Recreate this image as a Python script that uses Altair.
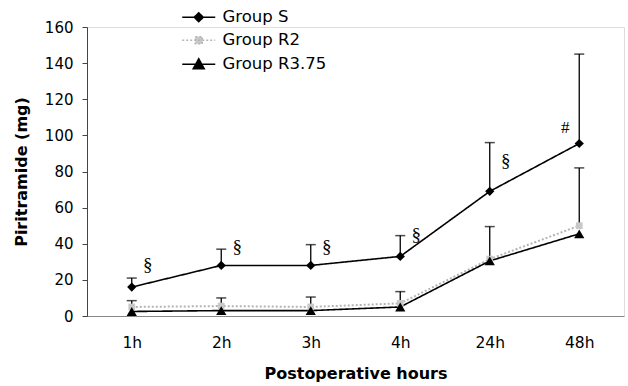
import altair as alt
import pandas as pd

# ---------------- data ----------------
hours = ["1h", "2h", "3h", "4h", "24h", "48h"]
groups = ["Group S", "Group R2", "Group R3.75"]

group_s = [16, 28, 28, 33, 69, 95.5]
group_r2 = [5, 5.5, 5, 7, 31.5, 50]
group_r375 = [2.5, 3, 3, 5, 30.5, 45.5]

# upper ends of the error bars (mean + SD); None = no bar drawn
err_s_hi = [21, 37, 39.5, 44.5, 96, 145]
err_r2_hi = [8.5, 10, 10.5, 13.5, None, 82]
err_r375_hi = [None, None, None, None, 49.5, None]

# significance marks
sect_hours = ["1h", "2h", "3h", "4h", "24h"]
sect_y = [28, 38, 38, 45, 86]
hash_hours = ["48h"]
hash_y = [104]

# ---------------- tables ----------------
rows = []
errs = []
for g, vals, his in [("Group S", group_s, err_s_hi),
                     ("Group R2", group_r2, err_r2_hi),
                     ("Group R3.75", group_r375, err_r375_hi)]:
    for h, v, hi in zip(hours, vals, his):
        rows.append({"group": g, "hour": h, "value": v})
        if hi is not None:
            errs.append({"group": g, "hour": h, "lo": v, "hi": hi})
df = pd.DataFrame(rows)
df_err = pd.DataFrame(errs)
df_sect = pd.DataFrame({"hour": sect_hours, "y": sect_y, "label": ["§"] * len(sect_hours)})
df_hash = pd.DataFrame({"hour": hash_hours, "y": hash_y, "label": ["#"] * len(hash_hours)})

FONT = "DejaVu Sans"
BLACK = "black"
GRAY = "#b4b4b4"

x_enc = alt.X("hour:N", sort=hours,
              scale=alt.Scale(type="point", domain=hours, padding=0.5),
              axis=alt.Axis(title="Postoperative hours", labelAngle=0, ticks=False, tickSize=0,
                            labelPadding=19, labelFont=FONT, labelFontSize=15.5, labelColor="black",
                            domainColor="#888", domainWidth=1.2,
                            titleFont=FONT, titleFontSize=16, titleFontWeight="bold",
                            titleColor="black", titlePadding=15, grid=False))
y_scale = alt.Scale(domain=[0, 160], nice=False)
y_axis = alt.Axis(title="Piritramide (mg)", values=list(range(0, 161, 20)), grid=False,
                  labelOverlap=False,
                  tickSize=5, labelPadding=9, labelFont=FONT, labelFontSize=15, labelColor="black",
                  domainColor="#444", tickColor="#444",
                  titleFont=FONT, titleFontSize=16, titleFontWeight="bold", titleColor="black",
                  titlePadding=15)


def y_enc(field):
    return alt.Y(field, scale=y_scale, axis=y_axis)


rules = alt.Chart(df_err).mark_rule(color=BLACK, strokeWidth=1.3).encode(
    x=x_enc, y=y_enc("lo:Q"), y2="hi:Q")
caps = alt.Chart(df_err).mark_tick(color=BLACK, thickness=1.5, size=10).encode(
    x=x_enc, y=y_enc("hi:Q"))


def line_layer(group, color, dash, width):
    return alt.Chart(df).transform_filter(alt.datum.group == group).mark_line(
        color=color, strokeDash=dash, strokeWidth=width).encode(
        x=x_enc, y=y_enc("value:Q"))


def point_layer(group, shape, fill, size):
    return alt.Chart(df).transform_filter(alt.datum.group == group).mark_point(
        shape=shape, filled=True, fill=fill, color=fill, opacity=1, size=size).encode(
        x=x_enc, y=y_enc("value:Q"))


line_s = line_layer("Group S", BLACK, [1, 0], 1.6)
line_r2 = line_layer("Group R2", GRAY, [2, 2], 2)
line_r3 = line_layer("Group R3.75", BLACK, [1, 0], 1.6)
pt_s = point_layer("Group S", "diamond", BLACK, 85)
pt_r2 = point_layer("Group R2", "square", "#c8c8c8", 45)
pt_r3 = point_layer("Group R3.75", "triangle-up", BLACK, 105)

sect = alt.Chart(df_sect).mark_text(font="Liberation Serif", fontSize=19, dx=16, baseline="middle",
                                    color="black").encode(
    x=x_enc, y=y_enc("y:Q"), text="label:N")
hsh = alt.Chart(df_hash).mark_text(font="Liberation Serif", fontSize=17, dx=-14, baseline="middle",
                                   color="black").encode(
    x=x_enc, y=y_enc("y:Q"), text="label:N")

# legend (driven by explicit scale domains only)
leg = alt.Legend(title=None, orient="none", legendX=103.5, legendY=-18, symbolSize=100,
                 labelFont=FONT, labelFontSize=16.5, labelColor="black", labelOffset=15.5,
                 rowPadding=6, symbolStrokeWidth=1.5, symbolOpacity=1, padding=0)
paths = ["M-3.3,0H3.3M0,-0.9L0.9,0L0,0.9L-0.9,0Z",
         "M-3.3,0H3.3M-0.7,-0.7H0.7V0.7H-0.7Z",
         "M-3.3,0H3.3M0,-1.1L1.1,0.9L-1.1,0.9Z"]
legend_layer = alt.Chart(df).transform_filter("false").mark_point(filled=True, opacity=1).encode(
    x=x_enc,
    y=y_enc("value:Q"),
    shape=alt.Shape("group:N", scale=alt.Scale(domain=groups, range=paths), legend=leg),
    fill=alt.Fill("group:N", scale=alt.Scale(domain=groups, range=[BLACK, "#c8c8c8", BLACK]), legend=leg),
    stroke=alt.Stroke("group:N", scale=alt.Scale(domain=groups, range=[BLACK, GRAY, BLACK]), legend=leg),
    strokeDash=alt.StrokeDash("group:N", scale=alt.Scale(domain=groups, range=[[1, 0], [2, 2], [1, 0]]),
                              legend=leg))

chart = alt.layer(rules, line_r2, line_s, line_r3, caps, pt_r2, pt_s, pt_r3, sect, hsh,
                  legend_layer).properties(
    width=537, height=289,
    autosize=alt.AutoSizeParams(type="none"),
    padding={"left": 87, "top": 27, "right": 4, "bottom": 70},
).configure_view(stroke=None).configure(background="white")

chart.save("out.html", embed_options={"renderer": "svg", "actions": False})
